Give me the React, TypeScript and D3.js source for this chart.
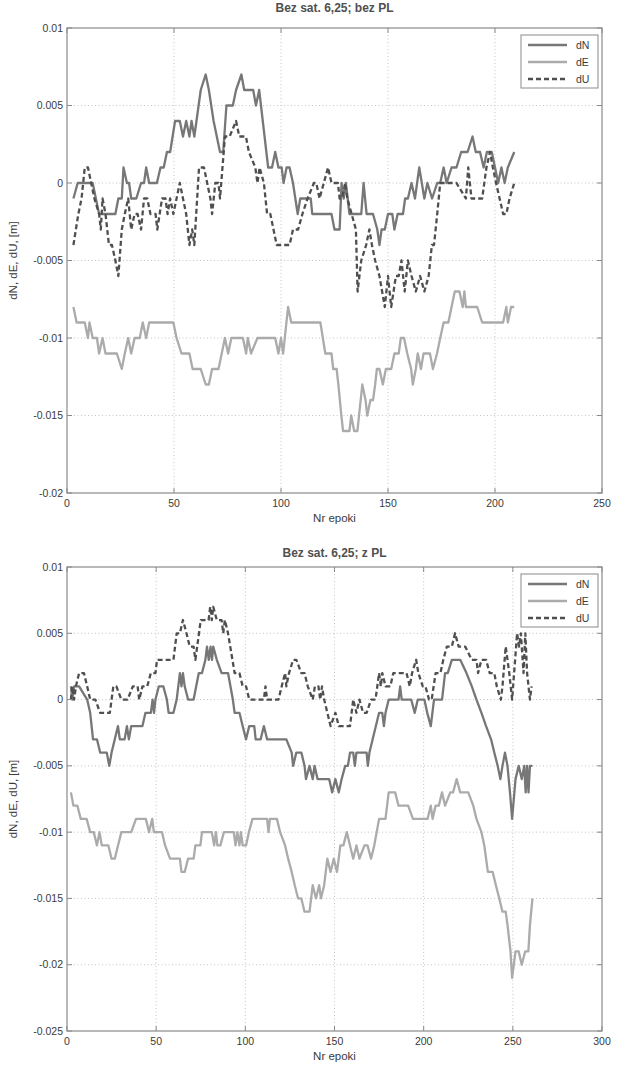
import React from 'react';
import * as d3 from 'd3';

type P = [number, number]; // [epoch, value in mm]

const TOP_TITLE = 'Bez sat. 6,25; bez PL';
const BOTTOM_TITLE = 'Bez sat. 6,25; z PL';
const X_LABEL = 'Nr epoki';
const Y_LABEL = 'dN, dE, dU, [m]';
const SERIES_NAMES = ['dN', 'dE', 'dU'];

const TOP_X_TICKS = [0, 50, 100, 150, 200, 250];
const TOP_Y_TICKS = [0.01, 0.005, 0, -0.005, -0.01, -0.015, -0.02];
const BOTTOM_X_TICKS = [0, 50, 100, 150, 200, 250, 300];
const BOTTOM_Y_TICKS = [0.01, 0.005, 0, -0.005, -0.01, -0.015, -0.02, -0.025];

// ---- top panel (bez PL), values in mm ----
const TOP_DN: P[] = [
  [3, -1], [5, 0], [12, 0], [15, -2], [22.6, -2], [24, -1], [25.6, -1], [26.4, 1], [28, 0], [29, 0], [30, -1], [32.4, -1],
  [34.6, 0], [36, 0], [37, 1], [38.4, 0], [42, 0], [43.7, 1], [45.2, 1], [46.7, 2], [48.2, 2], [50.5, 4], [52.7, 4], [54.2, 3],
  [55.7, 4], [57.2, 3], [58.2, 4], [59.5, 3], [60.5, 4], [62.5, 6], [64.8, 7], [66.3, 6], [68.5, 4], [70, 3], [71.5, 2], [73, 2],
  [74.5, 5], [77.5, 5], [79, 6], [81.5, 7], [82.8, 6], [87, 6], [88.3, 5], [89.8, 6], [94, 1], [95.8, 1], [97.3, 2], [98.8, 1],
  [100.3, 1], [101.2, 0], [102.6, 1], [104, 1], [105.6, 0], [107.8, -2], [109, -1], [113.9, -1], [114.6, -2], [123.6, -2],
  [125, -3], [127.4, -3], [128.3, 0], [129.3, -1], [130.3, 0], [132, -2], [137.5, -2], [138.6, 0], [140, -2], [143, -2],
  [145, -3], [146, -4], [147, -3], [148.5, -3], [150, -2], [152, -2], [153, -3], [154.5, -2], [157, -2], [158, -1], [159.3, -1],
  [161, 0], [162.6, -1], [164.6, 1], [167, -1], [168.4, 0], [170.6, -1], [173, 0], [174.4, 0], [176, 1], [177.4, 0], [179.7, 1],
  [182, 1], [184.2, 2], [187.2, 2], [189.5, 3], [191, 2], [193, 2], [194.7, 1], [196.2, 2], [198.5, 2], [200, 1], [201.5, 0],
  [203, 1], [204.5, 0], [206, 1], [209, 2],
];

const TOP_DE: P[] = [
  [3, -8], [4.5, -9], [8.3, -9], [9.8, -10], [10.5, -9], [12, -10], [14, -10], [15, -11], [16.6, -10], [18, -11], [23.3, -11],
  [25.6, -12], [27, -11], [28.6, -10], [30, -11], [31.6, -10], [34, -10], [35.4, -9], [37, -10], [38.4, -9], [49.7, -9],
  [51.2, -10], [53.5, -11], [57.2, -11], [58.7, -12], [62.5, -12], [64.8, -13], [66.3, -13], [67.8, -12], [70.8, -12],
  [72.3, -11], [73.8, -10], [75.3, -11], [76.8, -10], [82.2, -10], [83.7, -11], [84.5, -10], [86, -11], [89, -10], [97.3, -10],
  [98.8, -11], [100, -10], [101, -11], [103.3, -8], [104.8, -9], [118.4, -9], [120.7, -11], [122, -11], [123.6, -11], [124.4, -12],
  [126, -12], [126.8, -13], [128.2, -15], [129, -16], [132, -16], [132.8, -15], [134.2, -16], [135.7, -16], [138, -13],
  [139.5, -14], [140.3, -15], [141.8, -14], [143, -14], [144, -13], [144.8, -12], [146, -12], [147.6, -13], [149, -12],
  [151.5, -12], [153, -11], [155, -11], [156, -10], [157.5, -10], [159, -11], [160.8, -12], [161.6, -13], [163, -12],
  [163.9, -11], [165.4, -12], [166.6, -11], [169.6, -11], [171, -12], [172.9, -11], [174.4, -10], [176, -9], [178.2, -9],
  [179.7, -8], [181.2, -7], [183.4, -7], [184.9, -8], [185.7, -7], [186.4, -8], [191.7, -8], [194, -9], [203.8, -9],
  [205.3, -8], [206, -9], [207.5, -8], [209, -8],
];

const TOP_DU: P[] = [
  [3, -4], [5.3, -2], [6.8, -1], [8.3, 1], [9.8, 1], [11.3, 0], [12.8, -1], [15, -2], [15.8, -3], [16.6, -1], [18, -2],
  [19.6, -4], [21, -4], [22.6, -5], [24, -6], [25.6, -3], [27, -2], [28.6, -1], [30, -3], [31.6, -2], [33, -2], [34.6, -3],
  [36, -1], [37.5, -1], [39, -2], [41.4, -2], [42.2, -3], [44.4, -1], [46, -1], [47, -2], [48.2, -1], [49.7, -2], [51.2, -1],
  [52.7, 0], [54.2, -1], [55.7, -2], [57.2, -4], [58.5, -3], [59.5, -4], [61.7, 1], [64, 1], [65.5, 0], [67, -1], [67.8, -2],
  [69.3, 0], [70.8, 0], [71.5, -1], [73.8, 3], [76, 3], [79, 4], [80.5, 3], [83.6, 3], [85, 2], [88, 1], [89, 0], [90, 1],
  [92, 0], [93.5, -2], [95, -2], [96.5, -3], [98, -4], [104, -4], [105.6, -3], [108, -3], [110, -2], [112.4, -1], [115.4, 0],
  [116.5, 0], [118, -1], [120, 0], [122, 1], [123.6, 0], [126.6, 0], [127.4, -1], [128.5, -1], [130, 0], [131, -1], [133, -2],
  [135, -3], [135.8, -7], [137.5, -5], [139.8, -4], [141.3, -3], [142.5, -4], [144, -5], [146, -6], [148.5, -8], [150, -6],
  [151.5, -8], [153.7, -6], [155, -6], [156.3, -5], [157.8, -7], [159.3, -5], [161, -6], [163, -7], [165, -6], [167, -7],
  [169, -6], [170.5, -4], [171.5, -4], [173, -2], [174.4, 0], [182, 0], [186.4, -1], [187.5, 1], [189, -1], [194, -1],
  [196, 1], [197.7, 2], [199, 1], [200.5, 0], [203.8, -2], [205.3, -2], [206.8, -1], [209, 0],
];

// ---- bottom panel (z PL), values in mm ----
const BOT_DN: P[] = [
  [2.2, 1], [3, 0], [4, 1], [6.8, 1], [11.3, 0], [13, -1], [14.6, -3], [16.8, -3], [18.6, -4], [22.3, -4], [23.7, -5], [25, -4],
  [26.8, -3], [28.6, -2], [29.6, -3], [32.3, -3], [33.6, -2], [34.7, -3], [36, -2], [42.3, -2], [44, -1], [47, -1], [48, 0],
  [48.8, -1], [49.6, 0], [51.5, 1], [54, 1], [56, 0], [57, -1], [59.7, -1], [61.5, 0], [63.3, 2], [64.2, 1], [65, 2], [66, 1],
  [67.9, 0], [71, 0], [73.9, 2], [75.7, 2], [77.6, 3], [78.5, 4], [79.5, 3], [80.5, 4], [81.3, 3], [82, 4], [84, 3], [86.7, 2],
  [90.3, 2], [93, 0], [94, -1], [96.7, -1], [98.5, -2], [100.4, -3], [102.2, -2], [105, -2], [105.8, -3], [108.6, -3],
  [110.4, -2], [112.2, -3], [123, -3], [126, -4], [126.8, -5], [128.6, -4], [131.4, -4], [133.2, -5], [134, -6], [136, -5],
  [137.8, -6], [138.8, -5], [140.5, -6], [147, -6], [148.7, -7], [150.5, -6], [152.4, -7], [154, -6], [156, -5], [157.5, -5],
  [158.7, -4], [160.5, -4], [161.4, -5], [162.3, -4], [168, -4], [168.7, -5], [169.6, -4], [171.4, -3], [173.2, -2], [175, -1],
  [176.8, -1], [177.7, -2], [178.6, -1], [180.4, 0], [185.9, 0], [186.8, 1], [187.7, 0], [193, 0], [195, -1], [196.7, 0],
  [200.4, 0], [202, -1], [204, -2], [205.8, 0], [210.3, 0], [212, 2], [213.5, 2], [215.8, 3], [220.5, 3], [224, 2], [227, 1],
  [229.6, 0], [232.4, -1], [235, -2], [237.8, -3], [239.6, -4], [241.5, -5], [243, -6], [244.2, -5], [245.6, -4], [247, -5],
  [248.4, -7], [249.6, -9], [251.5, -6], [253.3, -5], [255, -6], [256.4, -5], [257.2, -7], [258, -5], [258.8, -7], [259.6, -5],
  [261, -5],
];

const BOT_DE: P[] = [
  [2.2, -7], [3.6, -8], [5.8, -8], [7.7, -9], [11, -9], [13, -10], [15, -10], [16.8, -11], [18.2, -10], [19.5, -11],
  [23.2, -11], [25, -12], [26.8, -12], [28.6, -11], [30.5, -10], [36, -10], [38.7, -9], [44.2, -9], [46, -10], [47.8, -9],
  [48.7, -10], [53.3, -10], [55, -11], [57.8, -12], [63.3, -12], [64.2, -13], [66, -13], [67.9, -12], [71, -12], [72, -11],
  [74.8, -11], [75.7, -10], [81.2, -10], [82.5, -11], [83.5, -10], [84.3, -11], [86, -11], [88, -10], [93.5, -10], [94.5, -11],
  [95.5, -10], [96.7, -11], [97.5, -10], [98.5, -11], [100.4, -11], [102, -10], [104, -9], [112.2, -9], [113, -10], [113.8, -9],
  [117.7, -9], [119.5, -10], [122.3, -11], [124, -12], [126, -13], [127.7, -14], [129.6, -15], [131.4, -15], [133.2, -16],
  [136, -16], [137.8, -14], [139.6, -15], [141.4, -14], [142.4, -15], [144.2, -14], [146, -12], [147.8, -13], [149.6, -12],
  [151.4, -13], [153.3, -11], [155, -11], [156.9, -10], [158.7, -11], [160.5, -12], [162.3, -11], [164, -12], [166.8, -11],
  [168.5, -11], [170.5, -12], [172.3, -11], [175, -9], [178.6, -9], [180.4, -7], [184, -7], [185.9, -8], [191.3, -8], [194, -9],
  [202.2, -9], [204, -8], [205, -9], [206.7, -8], [208.5, -8], [210.3, -7], [212, -8], [214.9, -7], [216.5, -7], [218.5, -6],
  [220.5, -7], [225, -7], [227.8, -8], [229.6, -9], [232.4, -10], [234, -11], [236, -13], [238.7, -13], [240.5, -14],
  [242.4, -15], [244.2, -16], [246, -16], [247, -17], [248.7, -19], [249.6, -21], [251.5, -19], [253.3, -19], [255, -20],
  [256.9, -19], [258.7, -19], [259.6, -17], [261, -15],
];

const BOT_DU: P[] = [
  [2.2, 0], [3, 1], [4, 0], [5, 1], [6.8, 2], [9.5, 2], [11.3, 1], [13, 0], [15.9, 0], [18.6, -1], [24, -1], [26, 1], [27.7, 1],
  [30.5, 0], [34, 0], [36.9, 1], [39.6, 1], [40.5, 0], [42.3, 1], [45, 1], [47, 2], [49.6, 2], [50.5, 3], [59.7, 3], [61.5, 5],
  [63.3, 5], [65, 6], [67, 5], [68.8, 4], [71, 4], [72, 3], [74, 5], [75, 6], [79.4, 6], [80.3, 7], [81.2, 6], [82, 7], [84, 6],
  [86.7, 6], [87.6, 5], [88.5, 6], [90.3, 5], [94, 2], [96.7, 2], [98.5, 1], [100.4, 1], [102.2, 0], [110.4, 0], [111.3, 1],
  [112.2, 0], [118.6, 0], [120.4, 1], [122.3, 2], [123, 1], [124.5, 2], [126.8, 3], [128.6, 3], [131.4, 2], [133.2, 2], [135, 1],
  [137.8, 0], [139, 1], [141, 1], [142, 0], [143, 1], [144.2, 0], [146, -1], [147.8, -2], [150.5, -1], [152.4, -2], [158.7, -2],
  [160.5, 0], [162.3, -1], [164, 0], [166, -1], [168, -1], [170.5, 0], [173, 0], [175, 2], [176, 1], [176.8, 2], [178.6, 1],
  [181.3, 1], [183, 2], [190.4, 2], [192.2, 1], [193.5, 2], [195.8, 3], [197, 2], [199.5, 1], [201, 1], [203, 0], [204.5, 0],
  [206.7, 2], [209.4, 2], [211, 3], [213, 4], [215.8, 4], [217.6, 5], [219.6, 4], [223.3, 4], [227, 3], [229.6, 3], [230.5, 2],
  [232.4, 3], [235, 3], [237, 2], [239.6, 2], [241, 1], [243.3, 0], [244.2, 1], [246, 4], [248, 2], [249.6, 0], [252.4, 5],
  [253.5, 4], [254.5, 5], [256, 2], [257, 5], [258, 2], [259.6, 0], [260.5, 1],
];

const SERIES_COLORS = ['#777777', '#ababab', '#4f4f4f'];
const FONT = '"Liberation Sans", Arial, Helvetica, sans-serif';

type Box = { left: number; right: number; top: number; bottom: number };

function fmt(v: number) {
  return v === 0 ? '0' : String(v);
}

function Panel(props: {
  box: Box;
  title: string;
  titleY: number;
  xTicks: number[];
  yTicks: number[];
  series: P[][];
}) {
  const { box, title, titleY, xTicks, yTicks, series } = props;
  const x = d3.scaleLinear().domain([xTicks[0], xTicks[xTicks.length - 1]]).range([box.left, box.right]);
  const y = d3.scaleLinear().domain([d3.min(yTicks)!, d3.max(yTicks)!]).range([box.bottom, box.top]);
  const line = d3
    .line<P>()
    .x((d) => x(d[0]))
    .y((d) => y(d[1] / 1000));
  const tl = 5;
  const axisColor = '#8a8a8a';
  const textColor = '#3a3a3a';
  const cy = (box.top + box.bottom) / 2;
  const lg = { x0: box.right - 81, x1: box.right - 4, y0: box.top + 7, y1: box.top + 60 };
  return (
    <g>
      {/* grid */}
      {xTicks.slice(1, -1).map((t) => (
        <line key={'gx' + t} x1={x(t)} x2={x(t)} y1={box.top} y2={box.bottom} stroke="#c4c4c4" strokeWidth={1} strokeDasharray="1,2.5" />
      ))}
      {yTicks.slice(1, -1).map((t) => (
        <line key={'gy' + t} x1={box.left} x2={box.right} y1={y(t)} y2={y(t)} stroke="#c4c4c4" strokeWidth={1} strokeDasharray="1,2.5" />
      ))}
      {/* series */}
      {series.map((s, i) => (
        <path
          key={'s' + i}
          d={line(s) || ''}
          fill="none"
          stroke={SERIES_COLORS[i]}
          strokeWidth={2.3}
          strokeLinejoin="round"
          strokeDasharray={i === 2 ? '5,3' : undefined}
        />
      ))}
      {/* box */}
      <rect x={box.left} y={box.top} width={box.right - box.left} height={box.bottom - box.top} fill="none" stroke={axisColor} strokeWidth={1.2} />
      {/* ticks */}
      {xTicks.map((t) => (
        <g key={'tx' + t}>
          <line x1={x(t)} x2={x(t)} y1={box.bottom} y2={box.bottom - tl} stroke={axisColor} />
          <line x1={x(t)} x2={x(t)} y1={box.top} y2={box.top + tl} stroke={axisColor} />
          <text x={x(t)} y={box.bottom + 14} textAnchor="middle" fontSize={10.5} fill={textColor} fontFamily={FONT}>
            {fmt(t)}
          </text>
        </g>
      ))}
      {yTicks.map((t) => (
        <g key={'ty' + t}>
          <line x1={box.left} x2={box.left + tl} y1={y(t)} y2={y(t)} stroke={axisColor} />
          <line x1={box.right} x2={box.right - tl} y1={y(t)} y2={y(t)} stroke={axisColor} />
          <text x={box.left - 4} y={y(t) + 3.5} textAnchor="end" fontSize={10.5} fill={textColor} fontFamily={FONT}>
            {fmt(t)}
          </text>
        </g>
      ))}
      {/* labels */}
      <text x={(box.left + box.right) / 2} y={titleY} textAnchor="middle" fontSize={12} fontWeight="bold" fill="#505050" fontFamily={FONT}>
        {title}
      </text>
      <text x={(box.left + box.right) / 2} y={box.bottom + 29} textAnchor="middle" fontSize={11.5} fill={textColor} fontFamily={FONT}>
        {X_LABEL}
      </text>
      <text
        transform={`translate(${box.left - 50},${cy}) rotate(-90)`}
        textAnchor="middle"
        fontSize={11.5}
        fill={textColor}
        fontFamily={FONT}
      >
        {Y_LABEL}
      </text>
      {/* legend */}
      <rect x={lg.x0} y={lg.y0} width={lg.x1 - lg.x0} height={lg.y1 - lg.y0} fill="#ffffff" stroke={axisColor} strokeWidth={1} />
      {SERIES_NAMES.map((n, i) => {
        const ry = lg.y0 + 10 + i * 17;
        return (
          <g key={'lg' + n}>
            <line
              x1={lg.x0 + 7}
              x2={lg.x0 + 46}
              y1={ry}
              y2={ry}
              stroke={SERIES_COLORS[i]}
              strokeWidth={2.3}
              strokeDasharray={i === 2 ? '5,3' : undefined}
            />
            <text x={lg.x0 + 55} y={ry + 4} fontSize={10.5} fill={textColor} fontFamily={FONT}>
              {n}
            </text>
          </g>
        );
      })}
    </g>
  );
}

export default function App() {
  return (
    <svg
      width={634}
      height={1066}
      style={{ position: 'absolute', left: 0, top: 0, display: 'block', background: '#ffffff' }}
    >
      <rect x={0} y={0} width={634} height={1066} fill="#ffffff" />
      <Panel
        box={{ left: 67, right: 602, top: 28, bottom: 493 }}
        title={TOP_TITLE}
        titleY={12}
        xTicks={TOP_X_TICKS}
        yTicks={TOP_Y_TICKS}
        series={[TOP_DN, TOP_DE, TOP_DU]}
      />
      <Panel
        box={{ left: 67, right: 602, top: 567, bottom: 1031 }}
        title={BOTTOM_TITLE}
        titleY={557}
        xTicks={BOTTOM_X_TICKS}
        yTicks={BOTTOM_Y_TICKS}
        series={[BOT_DN, BOT_DE, BOT_DU]}
      />
    </svg>
  );
}
